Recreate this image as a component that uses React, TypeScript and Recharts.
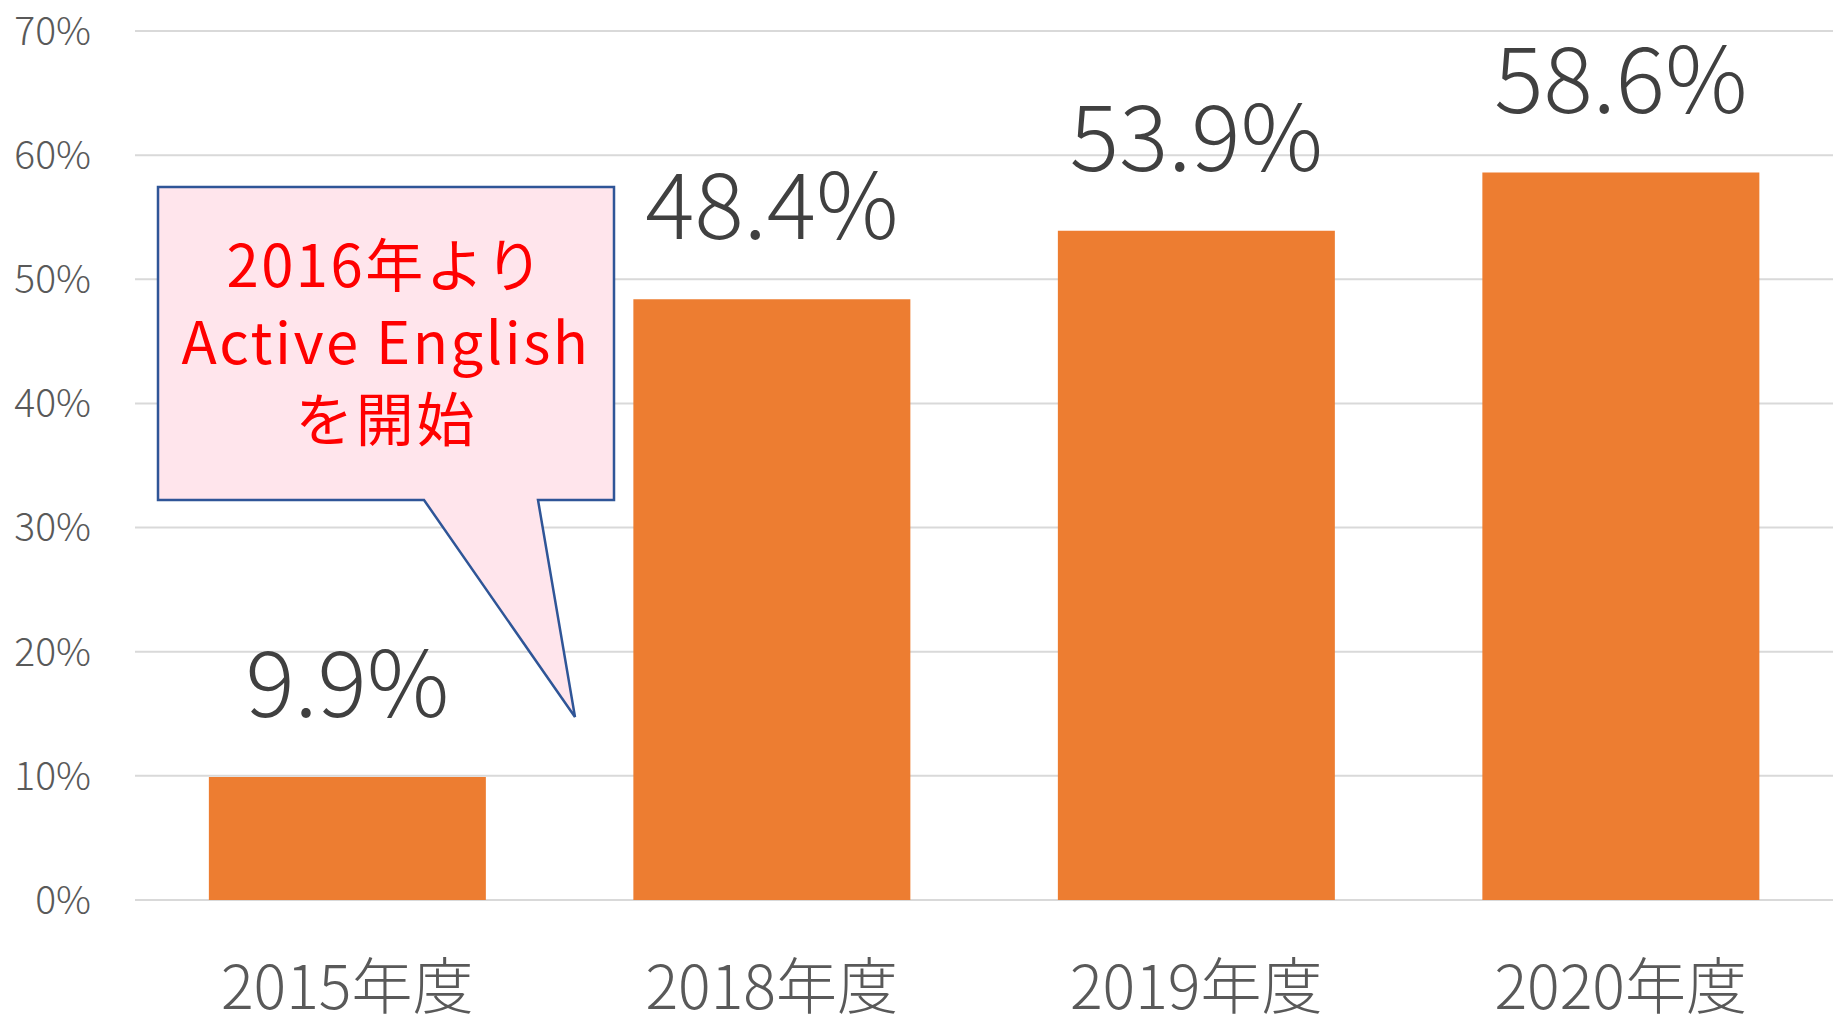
import React from "react";
import { BarChart, Bar, XAxis, YAxis, CartesianGrid, LabelList } from "recharts";

const categories = ["2015年度", "2018年度", "2019年度", "2020年度"];
const values = [9.9, 48.4, 53.9, 58.6];
const yTicks = [0, 10, 20, 30, 40, 50, 60, 70];
const calloutLines = ["2016年より", "Active English", "を開始"];

const data = categories.map((c, i) => ({ name: c, value: values[i] }));

const FONT = "'Noto Sans CJK JP', 'Noto Sans', sans-serif";

export default function App() {
  return (
    <div style={{ position: "absolute", left: 0, top: 0, width: 1845, height: 1026, background: "#fff", fontFamily: FONT }}>
      <BarChart
        width={1845}
        height={1026}
        data={data}
        margin={{ top: 31, right: 12, bottom: 96, left: 0 }}
        barCategoryGap="17.4%"
      >
        <CartesianGrid vertical={false} stroke="#D9D9D9" strokeWidth={2} />
        <XAxis
          dataKey="name"
          height={30}
          axisLine={false}
          tickLine={false}
          tickSize={0}
          tickMargin={66}
          tick={{ fill: "#595959", fontSize: 61, fontFamily: FONT, fontWeight: 300 }}
          interval={0}
        />
        <YAxis
          width={135}
          domain={[0, 70]}
          ticks={yTicks}
          axisLine={false}
          tickLine={false}
          tickSize={0}
          tickMargin={44}
          tickFormatter={(v) => `${v}%`}
          tick={{ fill: "#595959", fontSize: 39, fontFamily: FONT, fontWeight: 300 }}
        />
        <Bar dataKey="value" fill="#ED7D31" isAnimationActive={false}>
          <LabelList
            dataKey="value"
            position="top"
            offset={60}
            formatter={(v) => `${Number(v).toFixed(1)}%`}
            style={{ fill: "#404040", fontSize: 92, fontFamily: FONT, fontWeight: 300 }}
          />
        </Bar>
      </BarChart>
      <svg width={1845} height={1026} style={{ position: "absolute", left: 0, top: 0, pointerEvents: "none" }}>
        <path
          d="M158,187 L614,187 L614,500 L538,500 L575,717 L424,500 L158,500 Z"
          fill="#FFE5EC"
          stroke="#2F5597"
          strokeWidth={2.5}
          strokeLinejoin="miter"
        />
        {calloutLines.map((t, i) => (
          <text
            key={i}
            x={386}
            y={287 + i * 77}
            textAnchor="middle"
            fill="#FF0000"
            fontSize={58}
            letterSpacing={2.5}
            fontFamily={FONT}
          >
            {t}
          </text>
        ))}
      </svg>
    </div>
  );
}
